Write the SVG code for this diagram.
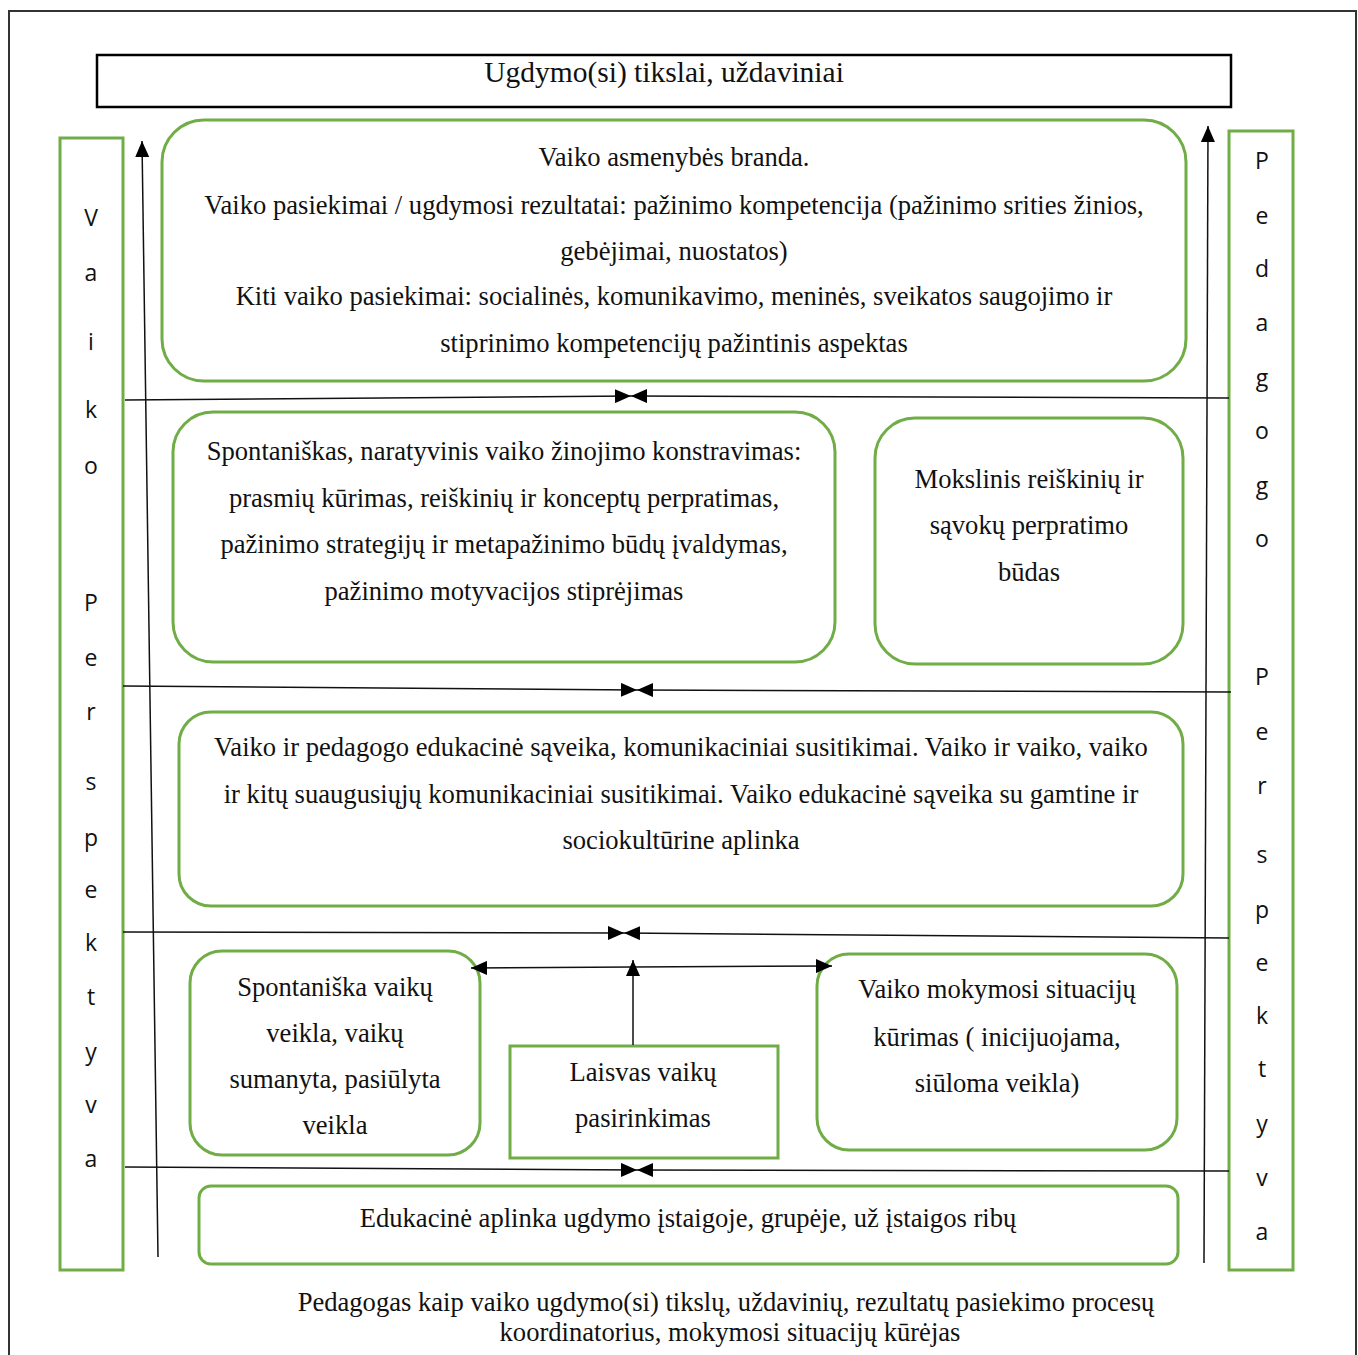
<svg xmlns="http://www.w3.org/2000/svg" width="1358" height="1355" viewBox="0 0 1358 1355">
<defs>
<style>
.box{fill:#fff;stroke:#70AD47;stroke-width:3}
.t{font-family:"Liberation Serif","Times New Roman",serif;font-size:26.6px;fill:#111;text-anchor:middle}
.tt{font-size:29.5px}
.v{font-family:"Open Sans","Liberation Sans",sans-serif;font-size:23px;fill:#111;text-anchor:middle}
.ln{stroke:#111;stroke-width:1.5;fill:none}
</style>
<marker id="ahb" viewBox="0 0 16 14" refX="16" refY="7" markerWidth="16" markerHeight="14" markerUnits="userSpaceOnUse" orient="auto">
<path d="M0,0 L16,7 L0,14 Z" fill="#000"/>
</marker>
</defs>
<rect width="1358" height="1355" fill="#fff"/>
<path d="M9,1356 V11 H1356 V1356" fill="none" stroke="#333" stroke-width="2"/>

<g id="title">
<rect x="97" y="55" width="1134" height="52" fill="#fff" stroke="#000" stroke-width="2.5"/>
<text class="t tt" x="664" y="82">Ugdymo(si) tikslai, uždaviniai</text>
</g>

<g id="left-col">
<rect class="box" x="60" y="138" width="63" height="1132"/>
<text class="v">
<tspan x="91" y="226">V</tspan><tspan x="91" y="281">a</tspan><tspan x="91" y="350">i</tspan><tspan x="91" y="418">k</tspan><tspan x="94" y="474">o</tspan>
<tspan x="91" y="611">P</tspan><tspan x="91" y="666">e</tspan><tspan x="91" y="720">r</tspan><tspan x="91" y="790">s</tspan><tspan x="91" y="846">p</tspan><tspan x="91" y="898">e</tspan><tspan x="91" y="951">k</tspan><tspan x="91" y="1005">t</tspan><tspan x="91" y="1060">y</tspan><tspan x="91" y="1113">v</tspan><tspan x="91" y="1167">a</tspan>
</text>
</g>

<g id="right-col">
<rect class="box" x="1229" y="131" width="64" height="1139"/>
<text class="v">
<tspan x="1262" y="169">P</tspan><tspan x="1262" y="224">e</tspan><tspan x="1262" y="277">d</tspan><tspan x="1262" y="331">a</tspan><tspan x="1262" y="386">g</tspan><tspan x="1262" y="439">o</tspan><tspan x="1262" y="494">g</tspan><tspan x="1265" y="547">o</tspan>
<tspan x="1262" y="685">P</tspan><tspan x="1262" y="740">e</tspan><tspan x="1262" y="794">r</tspan><tspan x="1262" y="863">s</tspan><tspan x="1262" y="918">p</tspan><tspan x="1262" y="971">e</tspan><tspan x="1262" y="1024">k</tspan><tspan x="1262" y="1077">t</tspan><tspan x="1262" y="1132">y</tspan><tspan x="1262" y="1186">v</tspan><tspan x="1262" y="1240">a</tspan>
</text>
</g>

<g id="node-A">
<rect class="box" x="162" y="120" width="1024" height="261" rx="42"/>
<text class="t"><tspan x="674" y="166">Vaiko asmenybės branda.</tspan><tspan x="674" y="214">Vaiko pasiekimai / ugdymosi rezultatai: pažinimo kompetencija (pažinimo srities žinios,</tspan><tspan x="674" y="260">gebėjimai, nuostatos)</tspan><tspan x="674" y="305">Kiti vaiko pasiekimai: socialinės, komunikavimo, meninės, sveikatos saugojimo ir</tspan><tspan x="674" y="352">stiprinimo kompetencijų pažintinis aspektas</tspan></text>
</g>

<g id="node-B">
<rect class="box" x="173" y="412" width="662" height="250" rx="40"/>
<text class="t"><tspan x="504" y="460">Spontaniškas, naratyvinis vaiko žinojimo konstravimas:</tspan><tspan x="504" y="507">prasmių kūrimas, reiškinių ir konceptų perpratimas,</tspan><tspan x="504" y="553">pažinimo strategijų ir metapažinimo būdų įvaldymas,</tspan><tspan x="504" y="600">pažinimo motyvacijos stiprėjimas</tspan></text>
</g>

<g id="node-C">
<rect class="box" x="875" y="418" width="308" height="246" rx="40"/>
<text class="t"><tspan x="1029" y="488">Mokslinis reiškinių ir</tspan><tspan x="1029" y="534">sąvokų perpratimo</tspan><tspan x="1029" y="581">būdas</tspan></text>
</g>

<g id="node-D">
<rect class="box" x="179" y="712" width="1004" height="194" rx="32"/>
<text class="t"><tspan x="681" y="756">Vaiko ir pedagogo edukacinė sąveika, komunikaciniai susitikimai. Vaiko ir vaiko, vaiko</tspan><tspan x="681" y="803">ir kitų suaugusiųjų komunikaciniai susitikimai. Vaiko edukacinė sąveika su gamtine ir</tspan><tspan x="681" y="849">sociokultūrine aplinka</tspan></text>
</g>

<g id="node-E">
<rect class="box" x="190" y="951" width="290" height="204" rx="32"/>
<text class="t"><tspan x="335" y="996">Spontaniška vaikų</tspan><tspan x="335" y="1042">veikla, vaikų</tspan><tspan x="335" y="1088">sumanyta, pasiūlyta</tspan><tspan x="335" y="1134">veikla</tspan></text>
</g>

<g id="node-F">
<rect class="box" x="510" y="1046" width="268" height="112"/>
<text class="t"><tspan x="643" y="1081">Laisvas vaikų</tspan><tspan x="643" y="1127">pasirinkimas</tspan></text>
</g>

<g id="node-G">
<rect class="box" x="817" y="954" width="360" height="196" rx="32"/>
<text class="t"><tspan x="997" y="998">Vaiko mokymosi situacijų</tspan><tspan x="997" y="1046">kūrimas ( inicijuojama,</tspan><tspan x="997" y="1092">siūloma  veikla)</tspan></text>
</g>

<g id="node-H">
<rect class="box" x="199" y="1186" width="979" height="78" rx="12"/>
<text class="t" x="688" y="1227">Edukacinė aplinka ugdymo įstaigoje, grupėje, už įstaigos ribų</text>
</g>

<g id="caption">
<text class="t"><tspan x="726" y="1311">Pedagogas kaip vaiko ugdymo(si) tikslų, uždavinių, rezultatų pasiekimo procesų</tspan><tspan x="730" y="1341">koordinatorius, mokymosi situacijų kūrėjas</tspan></text>
</g>

<g id="connectors">
<line class="ln" x1="158" y1="1257" x2="142" y2="141" marker-end="url(#ahb)"/>
<line class="ln" x1="1204" y1="1263" x2="1208" y2="126" marker-end="url(#ahb)"/>
<line class="ln" x1="125" y1="400" x2="631" y2="396" marker-end="url(#ahb)"/>
<line class="ln" x1="1229" y1="398" x2="631" y2="396" marker-end="url(#ahb)"/>
<line class="ln" x1="123" y1="686" x2="637" y2="690" marker-end="url(#ahb)"/>
<line class="ln" x1="1231" y1="692" x2="637" y2="690" marker-end="url(#ahb)"/>
<line class="ln" x1="123" y1="932" x2="624" y2="933" marker-end="url(#ahb)"/>
<line class="ln" x1="1229" y1="938" x2="624" y2="933" marker-end="url(#ahb)"/>
<line class="ln" x1="633" y1="967" x2="471" y2="968" marker-end="url(#ahb)"/>
<line class="ln" x1="633" y1="967" x2="832" y2="966" marker-end="url(#ahb)"/>
<line class="ln" x1="633" y1="1045" x2="633" y2="960" marker-end="url(#ahb)"/>
<line class="ln" x1="125" y1="1167" x2="637" y2="1170" marker-end="url(#ahb)"/>
<line class="ln" x1="1229" y1="1171" x2="637" y2="1170" marker-end="url(#ahb)"/>
</g>
</svg>
